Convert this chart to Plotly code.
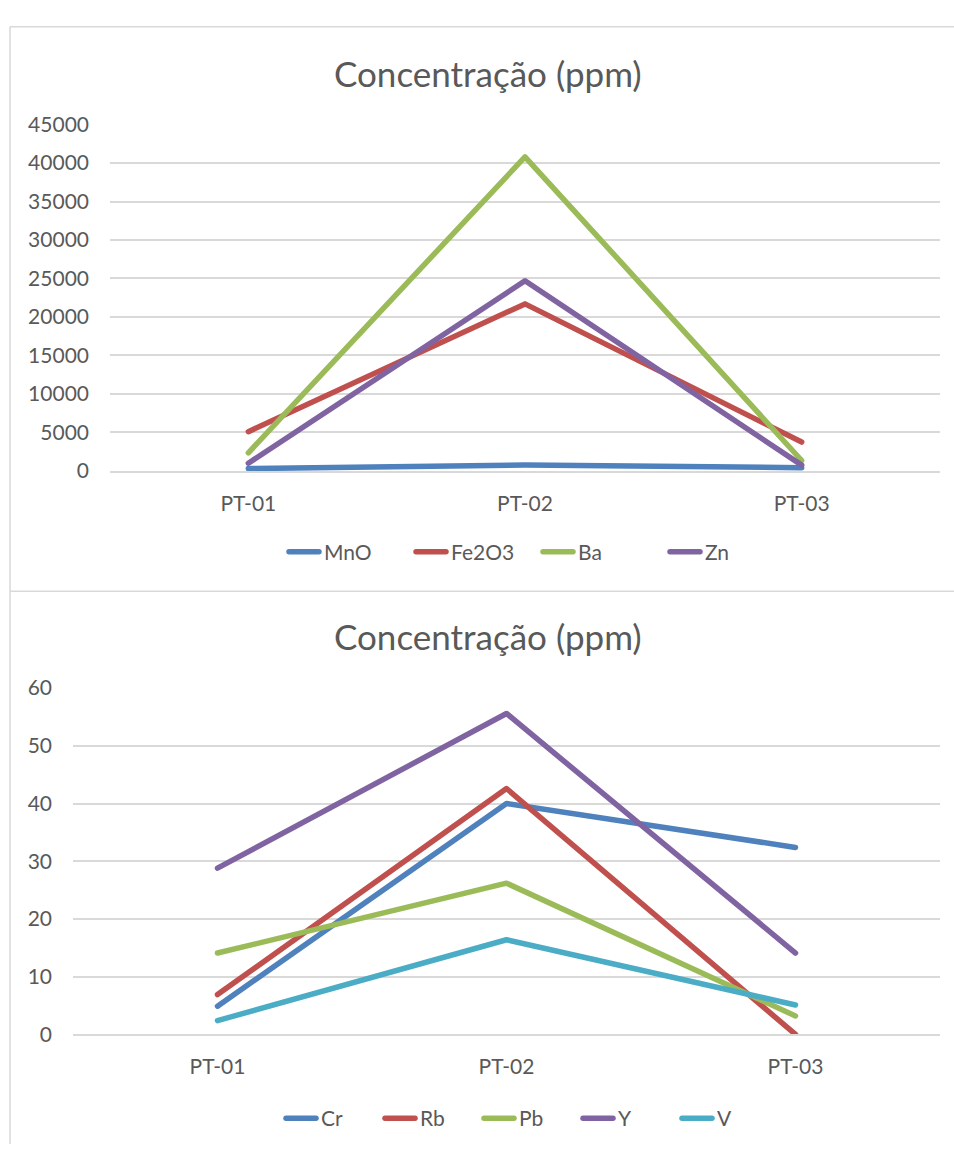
import plotly.graph_objects as go

# Sample points along the section
points = ["PT-01", "PT-02", "PT-03"]

# Major elements / high-concentration species (ppm)
mno = [300, 750, 420]
fe2o3 = [5100, 21700, 3750]
ba = [2350, 40800, 1350]
zn = [1000, 24700, 750]

# Trace elements (ppm)
cr = [4.9, 40.0, 32.4]
rb = [6.9, 42.6, 0.0]
pb = [14.1, 26.2, 3.2]
y_el = [28.8, 55.6, 14.1]
v = [2.4, 16.4, 5.1]

TITLE = "Concentração (ppm)"

BLUE = "#4F81BD"
RED = "#C0504D"
GREEN = "#9BBB59"
PURPLE = "#8064A2"
AQUA = "#4BACC6"
GRID = "#D9D9D9"
TEXT = "#595959"
FONT = "Lato, Carlito, 'Open Sans', sans-serif"

W, H = 954, 1155
LW = 5.5
TICK_SIZE = 21
TITLE_SIZE = 35

def px_x(p):
    return p / W

def px_y(p):
    return 1 - p / H

fig = go.Figure()

top_series = [("MnO", mno, BLUE), ("Fe2O3", fe2o3, RED), ("Ba", ba, GREEN), ("Zn", zn, PURPLE)]
for name, vals, col in top_series:
    fig.add_trace(go.Scatter(x=points, y=vals, name=name, mode="lines",
                             line=dict(color=col, width=LW),
                             xaxis="x", yaxis="y", legend="legend"))

bottom_series = [("Cr", cr, BLUE), ("Rb", rb, RED), ("Pb", pb, GREEN), ("Y", y_el, PURPLE), ("V", v, AQUA)]
for name, vals, col in bottom_series:
    fig.add_trace(go.Scatter(x=points, y=vals, name=name, mode="lines",
                             line=dict(color=col, width=LW),
                             xaxis="x2", yaxis="y2", legend="legend2"))

xcommon = dict(type="category", range=[-0.5, 2.5], showgrid=False, zeroline=False,
               showline=True, linecolor=GRID, linewidth=1.5,
               ticks="", ticklabelstandoff=13,
               tickfont=dict(family=FONT, size=TICK_SIZE, color=TEXT), fixedrange=True)
ycommon = dict(showgrid=True, gridcolor=GRID, gridwidth=1.5, zeroline=False,
               showline=False, ticks="", ticklabelstandoff=20,
               tickfont=dict(family=FONT, size=TICK_SIZE, color=TEXT), fixedrange=True)

legcommon = dict(orientation="h", xanchor="left", yanchor="middle",
                 font=dict(family=FONT, size=TICK_SIZE, color=TEXT),
                 bgcolor="rgba(0,0,0,0)", itemclick=False, itemdoubleclick=False)

fig.update_layout(
    width=W, height=H, autosize=False,
    margin=dict(l=0, r=0, t=0, b=0, pad=0),
    paper_bgcolor="white", plot_bgcolor="white",
    hovermode=False,
    xaxis=dict(domain=[px_x(110), px_x(940)], anchor="y", **xcommon),
    yaxis=dict(domain=[px_y(467), px_y(113)], anchor="x", range=[0, 45000], dtick=5000,
               tickformat="d", **ycommon),
    xaxis2=dict(domain=[px_x(73), px_x(940)], anchor="y2", **xcommon),
    yaxis2=dict(domain=[px_y(1043), px_y(689)], anchor="x2", range=[0, 60], dtick=10,
                **ycommon),
    legend=dict(x=px_x(284), y=px_y(550), entrywidth=82, **legcommon),
    legend2=dict(x=px_x(281), y=px_y(1129), entrywidth=54, **legcommon),
    annotations=[
        dict(text=TITLE, x=px_x(488), y=px_y(60), xref="paper", yref="paper",
             xanchor="center", yanchor="middle", showarrow=False,
             font=dict(family=FONT, size=TITLE_SIZE, color=TEXT)),
        dict(text=TITLE, x=px_x(488), y=px_y(636), xref="paper", yref="paper",
             xanchor="center", yanchor="middle", showarrow=False,
             font=dict(family=FONT, size=TITLE_SIZE, color=TEXT)),
    ],
    shapes=[
        # chart frames
        dict(type="line", xref="paper", yref="paper", x0=px_x(10), x1=1, y0=px_y(13), y1=px_y(13),
             line=dict(color=GRID, width=1.5)),
        dict(type="line", xref="paper", yref="paper", x0=px_x(10), x1=px_x(10), y0=0, y1=px_y(13),
             line=dict(color=GRID, width=1.5)),
        dict(type="line", xref="paper", yref="paper", x0=px_x(10), x1=1, y0=px_y(590), y1=px_y(590),
             line=dict(color=GRID, width=1.5)),
    ],
)

# Pin the graph to the top-left corner of the page and round the line ends.
page_style = """
document.documentElement.style.margin = '0';
document.documentElement.style.padding = '0';
document.documentElement.style.overflow = 'hidden';
document.body.style.margin = '0';
document.body.style.padding = '0';
document.body.style.overflow = 'hidden';
var gd = document.getElementById('{plot_id}');
gd.style.position = 'fixed';
gd.style.left = '0px';
gd.style.top = '0px';
var s = document.createElement('style');
s.textContent = '.scatterlayer .js-line, .legendlines path {stroke-linecap: round; stroke-linejoin: round;}';
document.head.appendChild(s);
"""

fig.write_html("out.html", post_script=page_style, config={"displayModeBar": False})
